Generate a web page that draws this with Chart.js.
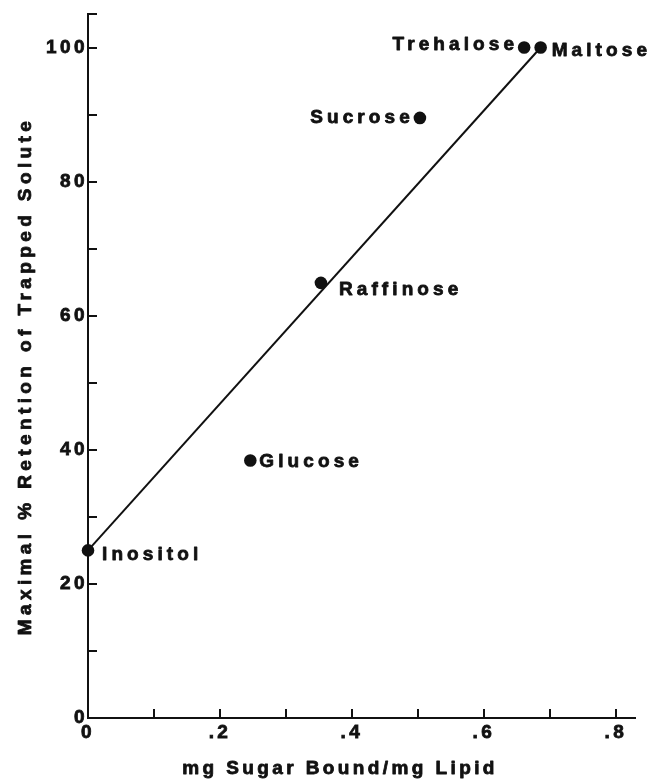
<!DOCTYPE html>
<html>
<head>
<meta charset="utf-8">
<script src="https://cdn.jsdelivr.net/npm/chart.js@4.4.1/dist/chart.umd.min.js"></script>
<style>
  html, body { margin: 0; padding: 0; background: #fff; }
  #wrap { width: 649px; height: 780px; }
</style>
</head>
<body>
<div id="wrap"><canvas id="sugarChart"></canvas></div>
<script>
// values
const sugars = ['Inositol', 'Glucose', 'Raffinose', 'Sucrose', 'Trehalose', 'Maltose'];
const sugarBound = [0, 0.246, 0.353, 0.503, 0.661, 0.686];
const retention = [25, 38.4, 64.9, 89.5, 100, 100];
const fitX = [0, 0.686];
const fitY = [25, 100];
const xTickVals = [0, 0.1, 0.2, 0.3, 0.4, 0.5, 0.6, 0.7, 0.8];
const xLabelled = [0, 0.2, 0.4, 0.6, 0.8];
const yLabelled = [0, 20, 40, 60, 80, 100];

const xTitle = 'mg Sugar Bound/mg Lipid';
const yTitle = 'Maximal % Retention of Trapped Solute';

// label placement next to each dot: [align, dx, dy]
const labelPlace = [
  ['left', 14, 4],
  ['left', 9, 1],
  ['left', 18, 7],
  ['right', -6, 0],
  ['right', -6, -3],
  ['left', 11, 3]
];

const ink = '#111';
const fontFamily = "'Liberation Sans', Arial, Helvetica, sans-serif";
const tickFont = { family: fontFamily, size: 19, weight: 'bold' };

const fmtX = (v) => {
  const r = Math.round(v * 10) / 10;
  if (!xLabelled.some((t) => Math.abs(t - r) < 1e-6)) return '';
  return r === 0 ? '0' : String(r).replace(/^0/, '');
};

const spacingPlugin = {
  id: 'spacing',
  beforeDraw(chart) {
    chart.ctx.letterSpacing = '3.4px';
  }
};

function heavyText(ctx, text, x, y) {
  ctx.strokeText(text, x, y);
  ctx.fillText(text, x, y);
}

const decorPlugin = {
  id: 'decor',
  afterDraw(chart) {
    const { ctx, chartArea, scales } = chart;
    ctx.save();
    ctx.strokeStyle = ink;
    ctx.lineWidth = 2;
    // inward tick marks
    scales.y.ticks.forEach((t) => {
      if (t.value === 0) return;
      const py = Math.round(scales.y.getPixelForValue(t.value));
      ctx.beginPath();
      ctx.moveTo(chartArea.left, py);
      ctx.lineTo(chartArea.left + 9, py);
      ctx.stroke();
    });
    scales.x.ticks.forEach((t) => {
      if (t.value === 0) return;
      const px = Math.round(scales.x.getPixelForValue(t.value));
      ctx.beginPath();
      ctx.moveTo(px, chartArea.bottom);
      ctx.lineTo(px, chartArea.bottom - 9);
      ctx.stroke();
    });

    ctx.fillStyle = ink;
    ctx.lineWidth = 0.8;
    ctx.lineJoin = 'round';
    ctx.font = `bold 19px ${fontFamily}`;
    ctx.letterSpacing = '4.1px';
    ctx.textBaseline = 'middle';

    // point labels
    const meta = chart.getDatasetMeta(1);
    meta.data.forEach((pt, i) => {
      const [align, dx, dy] = labelPlace[i];
      ctx.textAlign = align;
      heavyText(ctx, sugars[i], pt.x + dx, pt.y + dy);
    });

    // axis titles
    ctx.letterSpacing = '3.4px';
    ctx.textAlign = 'center';
    heavyText(ctx, xTitle, 340, 769);
    ctx.save();
    ctx.translate(26, (chartArea.top + chartArea.bottom) / 2 + 10);
    ctx.rotate(-Math.PI / 2);
    ctx.letterSpacing = '4.4px';
    heavyText(ctx, yTitle, 0, 0);
    ctx.restore();
    ctx.restore();
  }
};

const ctx = document.getElementById('sugarChart').getContext('2d');
new Chart(ctx, {
  type: 'scatter',
  data: {
    datasets: [
      {
        type: 'line',
        data: fitX.map((x, i) => ({ x, y: fitY[i] })),
        borderColor: ink,
        borderWidth: 2,
        pointRadius: 0,
        fill: false,
        tension: 0,
        clip: false
      },
      {
        data: sugarBound.map((x, i) => ({ x, y: retention[i] })),
        backgroundColor: ink,
        borderColor: ink,
        borderWidth: 0,
        pointRadius: 6.3,
        clip: false
      }
    ]
  },
  options: {
    responsive: true,
    maintainAspectRatio: false,
    animation: false,
    layout: { padding: { top: 14, right: 14, left: 0, bottom: 0 } },
    plugins: {
      legend: { display: false },
      tooltip: { enabled: false }
    },
    scales: {
      x: {
        type: 'linear',
        min: 0,
        max: 0.829,
        afterFit: (s) => { s.height = 62; },
        afterBuildTicks: (s) => { s.ticks = xTickVals.map((v) => ({ value: v })); },
        grid: { drawOnChartArea: false, drawTicks: false },
        border: { display: true, color: ink, width: 2 },
        ticks: {
          autoSkip: false,
          maxRotation: 0,
          padding: 3,
          color: ink,
          textStrokeColor: ink,
          textStrokeWidth: 0.8,
          font: tickFont,
          callback: (v) => fmtX(v)
        }
      },
      y: {
        min: 0,
        max: 105,
        afterFit: (s) => { s.width = 88; },
        grid: { drawOnChartArea: false, drawTicks: false },
        border: { display: true, color: ink, width: 2 },
        ticks: {
          stepSize: 10,
          autoSkip: false,
          padding: 0,
          color: ink,
          textStrokeColor: ink,
          textStrokeWidth: 0.8,
          font: tickFont,
          callback: (v) => (yLabelled.includes(v) ? String(v) : '')
        }
      }
    }
  },
  plugins: [spacingPlugin, decorPlugin]
});
</script>
</body>
</html>
